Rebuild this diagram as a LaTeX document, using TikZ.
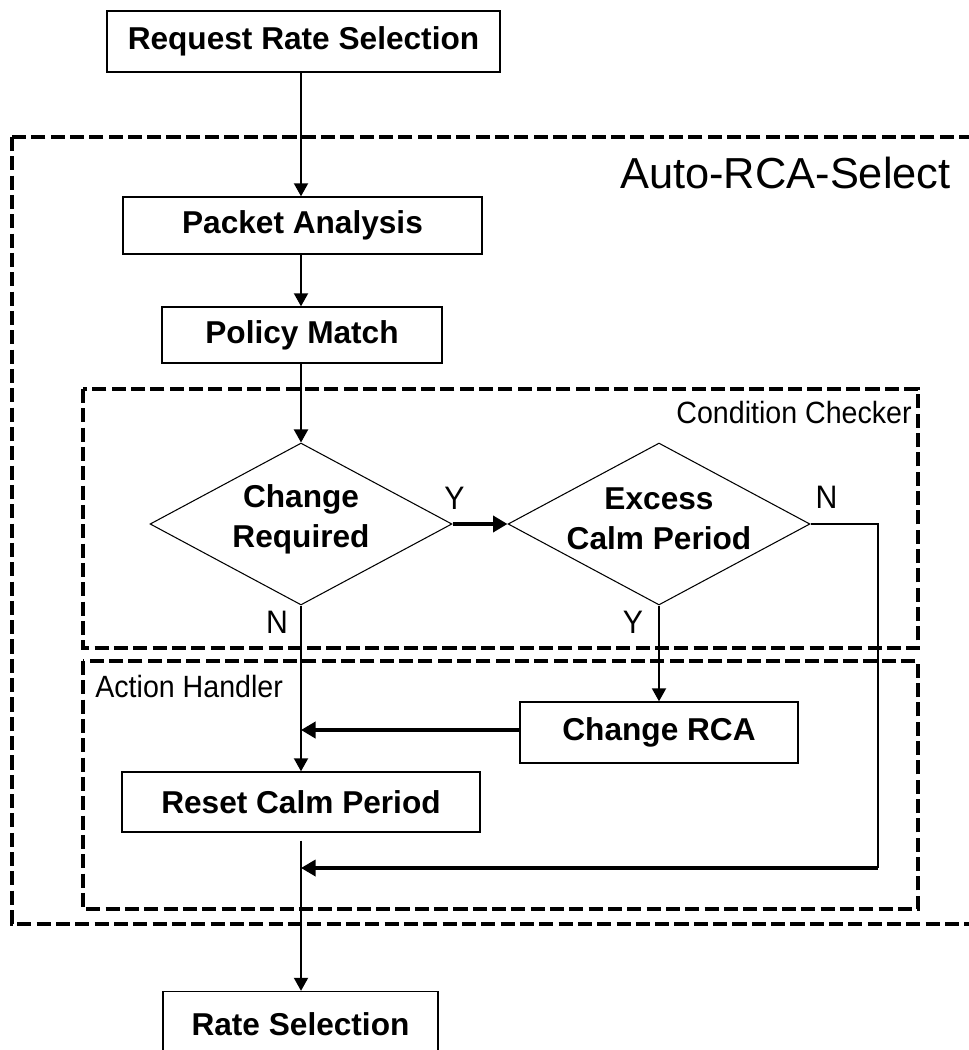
\documentclass[tikz,border=0pt]{standalone}
\usepackage{fontspec}
\setmainfont{Liberation Sans}
\newfontfamily\narrowsans[FakeStretch=0.93]{Liberation Sans}
\usetikzlibrary{shapes.geometric,arrows.meta,calc}
\tikzset{
  box/.style={draw, line width=0.8pt, inner sep=0pt, font=\bfseries\fontsize{18}{21}\selectfont},
  decide/.style={draw, diamond, line width=0.6pt, inner sep=0pt, minimum width=6.04cm, minimum height=3.24cm},
  decidetext/.style={align=center, font=\bfseries\fontsize{18}{22.7}\selectfont},
  group/.style={line width=2.1pt, dash pattern=on 8pt off 3pt},
  flow/.style={line width=1.1pt, -{Triangle[length=2.6mm,width=2.8mm]}},
  bigflow/.style={line width=2.4pt, -{Triangle[length=2.9mm,width=3.2mm]}},
  yn/.style={font=\narrowsans\fontsize{18.5}{21}\selectfont},
  grouplabel/.style={font=\narrowsans\fontsize{17.5}{20}\selectfont, inner sep=0pt}
}
\begin{document}
\begin{tikzpicture}[x=0.02cm, y=-0.02cm]
\useasboundingbox (0,0) rectangle (968,1050);
% dashed groups
\draw[group] (12,137) rectangle (1010,924);
\draw[group] (83,389) rectangle (918,648);
\draw[group] (83,661) rectangle (918,909);
\node[anchor=base east, inner sep=0pt, font=\fontsize{24.7}{28}\selectfont] (auto) at (951,189) {Auto-RCA-Select};
\node[grouplabel, anchor=base east] (cond) at (912,423) {Condition Checker};
\node[grouplabel, anchor=base west] (act) at (95,697) {Action Handler};
% boxes
\node[box, minimum width=7.86cm, minimum height=1.22cm] (req) at (303.5,41.5) {Request Rate Selection};
\node[box, minimum width=7.18cm, minimum height=1.14cm] (pkt) at (302.5,225.5) {Packet Analysis};
\node[box, minimum width=5.6cm, minimum height=1.12cm] (pol) at (302,335) {Policy Match};
\node[decide] (chg) at (301,524) {};
\node[decidetext] (chgtext) at (301,519) {Change\\Required};
\node[decide] (exc) at (659,524) {};
\node[decidetext] (exctext) at (659,519) {Excess\\Calm Period};
\node[box, minimum width=5.56cm, minimum height=1.22cm] (rca) at (659,732.5) {Change RCA};
\node[box, minimum width=7.16cm, minimum height=1.2cm] (rst) at (301,802) {Reset Calm Period};
\node[box, minimum width=5.5cm, minimum height=1.3cm] (rate) at (300.5,1024) {Rate Selection};
\coordinate (nturn) at (878,868);
% connectors
\draw[flow] (req.south -| chg.north) -- (pkt.north -| chg.north);
\draw[flow] (pkt.south -| chg.north) -- (pol.north -| chg.north);
\draw[flow] (pol.south -| chg.north) -- (chg.north);
\draw[bigflow] (chg.east) -- (exc.west);
\node[yn] (y1) at ($(chg.east)+(2,-26)$) {Y};
\draw[flow] (chg.south) -- (chg.south |- rst.north);
\node[yn] (n1) at ($(chg.south)+(-24,17)$) {N};
\draw[flow] (exc.south) -- (rca.north -| exc.south);
\node[yn] (y2) at ($(exc.south)+(-26,17)$) {Y};
\draw[bigflow] (rca.west |- 0,730) -- (chg.south |- 0,730);
\draw[line width=0.8pt] (exc.east) -| (nturn);
\node[yn] (n2) at ($(exc.east)+(16,-27)$) {N};
\draw[bigflow, line width=1.9pt] (nturn) -- (nturn -| chg.south);
\draw[flow, shorten <=0.16cm] (rst.south -| chg.south) -- (rate.north -| chg.south);
\end{tikzpicture}
\end{document}
